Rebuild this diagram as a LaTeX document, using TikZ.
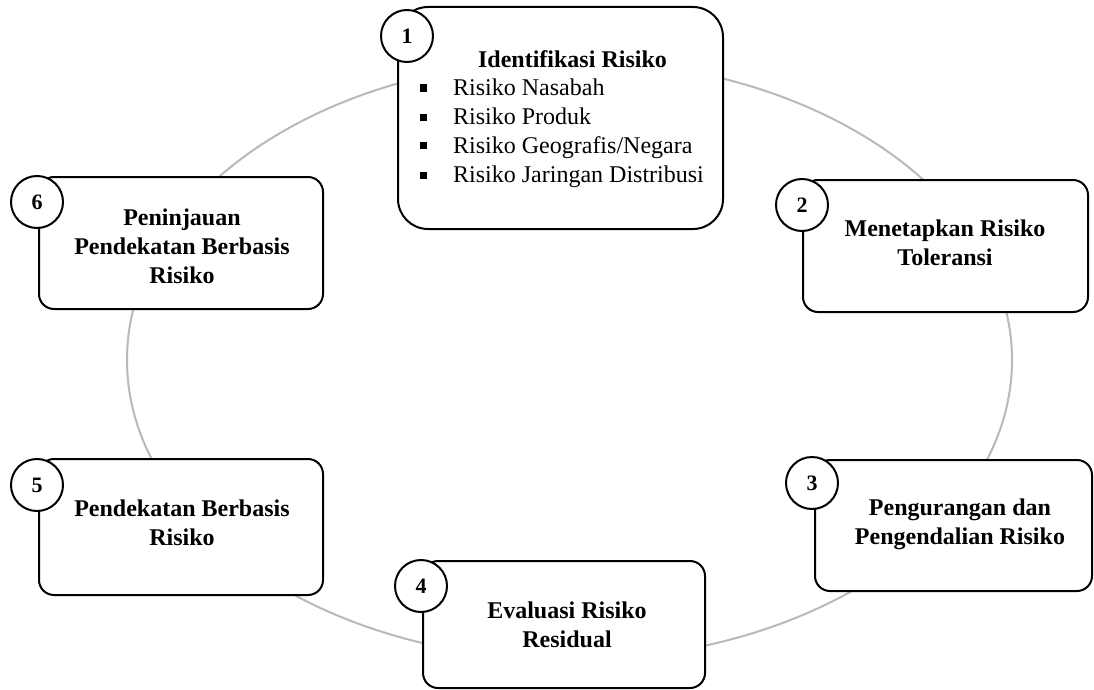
\documentclass[tikz,border=0pt]{standalone}
\usepackage{fontspec}
\setmainfont{Liberation Serif}
\begin{document}
\begin{tikzpicture}[x=1pt,y=-1pt,
  stage/.style={draw=black, line width=2pt, fill=white, rounded corners=15pt, inner sep=0pt},
  badge/.style={circle, draw=black, line width=2pt, fill=white, minimum size=52pt, inner sep=0pt,
    font=\bfseries\fontsize{22}{26}\selectfont},
  title/.style={align=center, anchor=base, inner sep=0pt,
    font=\bfseries\fontsize{24}{29}\selectfont},
  items/.style={align=left, anchor=base west, inner sep=0pt,
    font=\fontsize{24}{29}\selectfont}]
\useasboundingbox (0,0) rectangle (1094,690);
% cycle ring behind the stages
\draw[color={rgb,255:red,185;green,185;blue,185}, line width=2pt]
  (569.5,360) ellipse [x radius=442.5pt, y radius=300pt];
% stage boxes
\node[stage, rounded corners=30pt, minimum width=325pt, minimum height=222pt] (b1) at (560.5,118) {};
\node[stage, minimum width=285pt, minimum height=132pt] (b2) at (945.5,246) {};
\node[stage, minimum width=277pt, minimum height=131pt] (b3) at (953.5,525.5) {};
\node[stage, minimum width=282pt, minimum height=127pt] (b4) at (564,624.5) {};
\node[stage, minimum width=284pt, minimum height=136pt] (b5) at (181,527) {};
\node[stage, minimum width=284pt, minimum height=132pt] (b6) at (181,243) {};
% numbered badges
\node[badge] (n1) at (407,36) {1};
\node[badge] (n2) at (802,205) {2};
\node[badge] (n3) at (812,483) {3};
\node[badge] (n4) at (421,586) {4};
\node[badge] (n5) at (37,485) {5};
\node[badge] (n6) at (37,202) {6};
% stage texts (anchored at the baseline of the last line)
\node[title] (t1) at (572.5,68) {Identifikasi Risiko};
\newcommand{\sqbullet}{\makebox[33pt][l]{\rule[3.5pt]{7pt}{7pt}}}
\node[items] (l1) at (420,182) {\sqbullet Risiko Nasabah\\
  \sqbullet Risiko Produk\\
  \sqbullet Risiko Geografis/Negara\\
  \sqbullet Risiko Jaringan Distribusi};
\node[title] (t2) at (945,265) {Menetapkan Risiko\\Toleransi};
\node[title] (t3) at (960,544) {Pengurangan dan\\Pengendalian Risiko};
\node[title] (t4) at (567,647) {Evaluasi Risiko\\Residual};
\node[title] (t5) at (182,545) {Pendekatan Berbasis\\Risiko};
\node[title] (t6) at (182,283) {Peninjauan\\Pendekatan Berbasis\\Risiko};
\end{tikzpicture}
\end{document}
